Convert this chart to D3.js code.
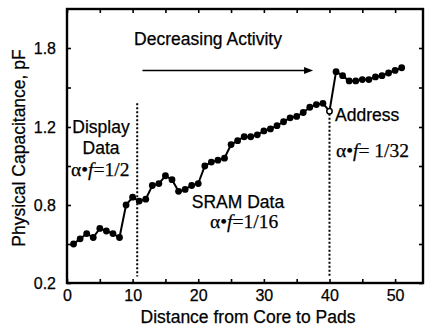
<!DOCTYPE html>
<html>
<head>
<meta charset="utf-8">
<script src="https://cdn.jsdelivr.net/npm/d3@7"></script>
<style>
  html, body { margin: 0; padding: 0; background: #fff; }
  svg { display: block; }
  text { font-family: "Liberation Sans", Arial, Helvetica, sans-serif; fill: #000; stroke: #000; stroke-width: 0.25; }
  .serif { font-family: "Liberation Serif", "Times New Roman", serif; }
</style>
</head>
<body>
<svg id="chart" width="425" height="329"></svg>
<script>
// Bus position (distance from core to pads) and physical capacitance per wire
const position = d3.range(1, 52);
const capacitance = [
  0.50, 0.54, 0.58, 0.55, 0.62, 0.60, 0.58, 0.55, 0.80, 0.84,
  0.82, 0.83, 0.90, 0.91, 0.95, 0.93, 0.87, 0.88, 0.90, 0.91,
  1.00, 1.02, 1.03, 1.04, 1.11, 1.13, 1.15, 1.15, 1.16, 1.18,
  1.19, 1.21, 1.24, 1.27, 1.28, 1.31, 1.35, 1.37, 1.38, 1.32,
  1.62, 1.59, 1.55, 1.55, 1.56, 1.56, 1.58, 1.59, 1.61, 1.63, 1.65
];
// Wire 40 is drawn as an open marker
const openPoints = [40];

// Axis ticks and labels
const xTicks = d3.range(0, 55, 5);
const xTickLabels = [0, 10, 20, 30, 40, 50];
const yAxisStops = [0.2, 0.8, 1.2, 1.8, 2.1];
const yTicks = [0.2, 0.5, 0.8, 1.0, 1.2, 1.5, 1.8];
const yTickLabels = [0.2, 0.8, 1.2, 1.8];

// Region boundaries (dotted lines) and the activity arrow
const boundaries = [
  { x: 10.7, y0: 0.25, y1: 1.38 },
  { x: 40.0, y0: 0.25, y1: 1.30 }
];
const activityArrow = { x0: 11.5, x1: 37.5, y: 1.63 };

const svg = d3.select("#chart");
const plotLeft = 67, plotRight = 423, plotTop = 9, plotBottom = 283;

const x = d3.scaleLinear().domain([0, 54.25]).range([plotLeft, plotRight]);
// The capacitance axis is graduated unevenly, so the scale is piecewise linear
const y = d3.scaleLinear().domain(yAxisStops).range([283, 205, 127, 48, plotTop]);

const data = position.map((p, i) => ({ p, c: capacitance[i] }));

// Frame
svg.append("rect")
  .attr("x", plotLeft).attr("y", plotTop)
  .attr("width", plotRight - plotLeft).attr("height", plotBottom - plotTop)
  .attr("fill", "none").attr("stroke", "#000").attr("stroke-width", 2.4);

const fmtX = d => xTickLabels.includes(d) ? String(d) : "";
const fmtY = d => yTickLabels.includes(d) ? d.toFixed(1) : "";

function styleAxis(g) {
  g.select(".domain").remove();
  g.selectAll(".tick line").attr("stroke", "#000").attr("stroke-width", 1.6);
  g.selectAll(".tick text").attr("font-size", 16).attr("fill", "#000")
    .attr("font-family", "'Liberation Sans', Arial, sans-serif");
}

svg.append("g").attr("transform", `translate(0,${plotBottom})`)
  .call(d3.axisBottom(x).tickValues(xTicks).tickFormat(fmtX).tickSizeInner(-4).tickSizeOuter(0).tickPadding(8))
  .call(styleAxis)
  .selectAll(".tick text").attr("dy", "0.62em");

svg.append("g").attr("transform", `translate(0,${plotTop})`)
  .call(d3.axisTop(x).tickValues(xTicks).tickFormat("").tickSizeInner(-4).tickSizeOuter(0))
  .call(styleAxis);

svg.append("g").attr("transform", `translate(${plotLeft},0)`)
  .call(d3.axisLeft(y).tickValues(yTicks).tickFormat(fmtY).tickSizeInner(-4).tickSizeOuter(0).tickPadding(11))
  .call(styleAxis);

svg.append("g").attr("transform", `translate(${plotRight},0)`)
  .call(d3.axisRight(y).tickValues(yTicks).tickFormat("").tickSizeInner(-4).tickSizeOuter(0))
  .call(styleAxis);

// Region boundaries
svg.append("g").selectAll("line").data(boundaries).join("line")
  .attr("x1", d => x(d.x)).attr("x2", d => x(d.x))
  .attr("y1", d => y(d.y1)).attr("y2", d => y(d.y0))
  .attr("stroke", "#000").attr("stroke-width", 2)
  .attr("stroke-dasharray", "2,2");

// Capacitance trace
svg.append("path").datum(data)
  .attr("fill", "none").attr("stroke", "#000").attr("stroke-width", 2)
  .attr("d", d3.line().x(d => x(d.p)).y(d => y(d.c)));

svg.append("g").selectAll("circle").data(data).join("circle")
  .attr("cx", d => x(d.p)).attr("cy", d => y(d.c))
  .attr("r", d => openPoints.includes(d.p) ? 2.7 : 3.4)
  .attr("fill", d => openPoints.includes(d.p) ? "#fff" : "#000")
  .attr("stroke", "#000").attr("stroke-width", d => openPoints.includes(d.p) ? 1.5 : 0);

// Decreasing activity arrow
const ay = y(activityArrow.y), ax0 = x(activityArrow.x0), ax1 = x(activityArrow.x1);
svg.append("line")
  .attr("x1", ax0).attr("x2", ax1 - 6).attr("y1", ay).attr("y2", ay)
  .attr("stroke", "#000").attr("stroke-width", 1.5);
svg.append("path")
  .attr("d", `M${ax1},${ay} L${ax1 - 9},${ay - 3.5} L${ax1 - 9},${ay + 3.5} Z`)
  .attr("fill", "#000");

// Annotations
const sans = (tx, ty, s, anchor) => svg.append("text")
  .attr("x", tx).attr("y", ty).attr("font-size", 17.5)
  .attr("text-anchor", anchor || "start").text(s);

sans(208, 45, "Decreasing Activity", "middle");
sans(101, 133, "Display", "middle");
sans(101, 154, "Data", "middle");
sans(238, 208, "SRAM Data", "middle");
sans(335, 121, "Address");

function activity(tx, ty, frac) {
  const t = svg.append("text").attr("class", "serif")
    .attr("x", tx).attr("y", ty).attr("font-size", 19.5).attr("stroke-width", 0.15);
  t.append("tspan").text("α•");
  t.append("tspan").attr("font-style", "italic").text("f");
  t.append("tspan").text(frac);
}
activity(71, 176, "=1/2");
activity(210, 228, "=1/16");
activity(336, 157, "= 1/32");

// Axis titles
svg.append("text")
  .attr("x", 248).attr("y", 323).attr("font-size", 17.5)
  .attr("text-anchor", "middle").text("Distance from Core to Pads");
svg.append("text")
  .attr("transform", "translate(25,148) rotate(-90)")
  .attr("font-size", 17.5).attr("text-anchor", "middle")
  .text("Physical Capacitance, pF");
</script>
</body>
</html>
